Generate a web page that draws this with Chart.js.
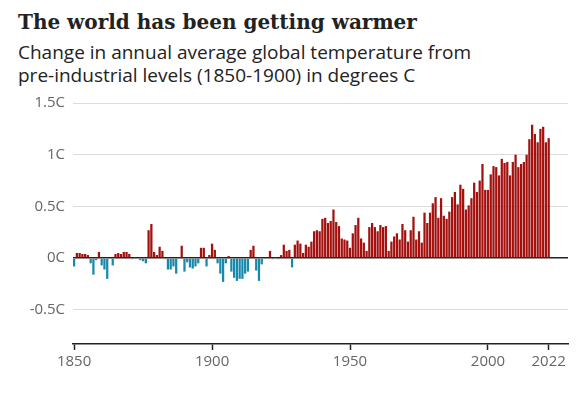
<!DOCTYPE html>
<html>
<head>
<meta charset="utf-8">
<script src="https://cdn.jsdelivr.net/npm/chart.js@4"></script>
<style>
    html, body {
        margin: 0;
        padding: 0;
        background: #fff;
    }
    #wrap {
        position: relative;
        width: 580px;
        height: 393px;
        overflow: hidden;
    }
    #title {
        position: absolute;
        left: 18px;
        top: 8px;
        font-family: 'DejaVu Serif', serif;
        font-weight: bold;
        font-size: 20px;
        line-height: 28px;
        color: #222;
        white-space: nowrap;
    }
    #subtitle {
        position: absolute;
        left: 18px;
        top: 41px;
        font-family: 'Open Sans', sans-serif;
        font-size: 19px;
        line-height: 23px;
        color: #222;
        white-space: nowrap;
    }
    #chart {
        position: absolute;
        left: 0;
        top: 0;
    }
</style>
</head>
<body>
<div id="wrap">
    <div id="title">The world has been getting warmer</div>
    <div id="subtitle">Change in annual average global temperature from<br>pre-industrial levels (1850-1900) in degrees C</div>
    <canvas id="chart" width="580" height="393"></canvas>
</div>
<script>
// Annual temperature change vs 1850-1900 average (degrees C)
const firstYear = 1850;
const temps1850s = [-0.08, 0.05, 0.05, 0.04, 0.04, 0.03, -0.05, -0.16, -0.02, 0.06];
const temps1860s = [-0.07, -0.11, -0.20, 0.00, -0.07, 0.04, 0.05, 0.04, 0.06, 0.06];
const temps1870s = [0.04, -0.01, 0.01, 0.00, -0.02, -0.03, -0.05, 0.27, 0.33, 0.06];
const temps1880s = [0.03, 0.11, 0.07, -0.01, -0.11, -0.11, -0.08, -0.15, 0.01, 0.12];
const temps1890s = [-0.13, -0.04, -0.09, -0.10, -0.08, -0.05, 0.10, 0.10, -0.08, 0.03];
const temps1900s = [0.14, 0.08, -0.05, -0.15, -0.23, -0.05, 0.02, -0.13, -0.19, -0.22];
const temps1910s = [-0.20, -0.20, -0.15, -0.13, 0.08, 0.12, -0.12, -0.22, -0.06, 0.00];
const temps1920s = [0.00, 0.07, -0.01, 0.01, -0.01, 0.03, 0.13, 0.07, 0.08, -0.09];
const temps1930s = [0.13, 0.17, 0.14, 0.05, 0.13, 0.11, 0.16, 0.26, 0.27, 0.26];
const temps1940s = [0.38, 0.39, 0.34, 0.36, 0.47, 0.35, 0.31, 0.19, 0.18, 0.17];
const temps1950s = [0.10, 0.24, 0.32, 0.39, 0.19, 0.15, 0.07, 0.30, 0.34, 0.30];
const temps1960s = [0.26, 0.32, 0.30, 0.31, 0.07, 0.16, 0.21, 0.24, 0.18, 0.33];
const temps1970s = [0.27, 0.16, 0.27, 0.40, 0.18, 0.26, 0.15, 0.44, 0.34, 0.44];
const temps1980s = [0.53, 0.59, 0.39, 0.58, 0.41, 0.38, 0.45, 0.59, 0.64, 0.52];
const temps1990s = [0.71, 0.67, 0.47, 0.51, 0.58, 0.73, 0.64, 0.75, 0.91, 0.66];
const temps2000s = [0.66, 0.81, 0.89, 0.88, 0.80, 0.96, 0.92, 0.93, 0.80, 0.93];
const temps2010s = [1.00, 0.88, 0.91, 0.93, 1.00, 1.15, 1.29, 1.20, 1.12, 1.25];
const temps2020s = [1.27, 1.12, 1.16];

const xTickYears = [1850, 1900, 1950, 2000, 2022];
const yTickValues = [-0.5, 0, 0.5, 1, 1.5];

const warmColor = '#a3110f';
const coolColor = '#1889aa';

const temps = [].concat(
    temps1850s, temps1860s, temps1870s, temps1880s, temps1890s,
    temps1900s, temps1910s, temps1920s, temps1930s, temps1940s,
    temps1950s, temps1960s, temps1970s, temps1980s, temps1990s,
    temps2000s, temps2010s, temps2020s
);
const points = temps.map((t, i) => ({ x: firstYear + i, y: t }));

const tickFont = { family: "'Open Sans', sans-serif", size: 15 };

new Chart(document.getElementById('chart'), {
    type: 'bar',
    data: {
        datasets: [{
            data: points,
            backgroundColor: points.map(p => p.y < 0 ? coolColor : warmColor),
            borderWidth: 0,
            barPercentage: 0.82,
            categoryPercentage: 1
        }]
    },
    options: {
        responsive: false,
        animation: false,
        layout: {
            padding: { top: 103, left: 0, right: 12, bottom: 19 }
        },
        plugins: {
            legend: { display: false },
            tooltip: { enabled: false }
        },
        scales: {
            x: {
                type: 'linear',
                offset: false,
                min: 1849.6,
                max: 2029,
                afterBuildTicks: axis => {
                    axis.ticks = xTickYears.map(v => ({ value: v }));
                },
                grid: {
                    offset: false,
                    drawOnChartArea: false,
                    drawTicks: true,
                    tickLength: 6,
                    tickWidth: 1.5,
                    tickColor: '#222'
                },
                border: { display: true, color: '#222', width: 1.5 },
                ticks: {
                    font: tickFont,
                    color: '#666',
                    padding: 3,
                    maxRotation: 0,
                    autoSkip: false,
                    callback: value => String(value)
                }
            },
            y: {
                min: -0.83,
                max: 1.5,
                afterBuildTicks: axis => {
                    axis.ticks = yTickValues.map(v => ({ value: v }));
                },
                afterFit: axis => {
                    axis.width = 73;
                },
                grid: {
                    drawTicks: false,
                    color: ctx => ctx.tick && ctx.tick.value === 0 ? '#222' : '#dcdcdc',
                    lineWidth: ctx => ctx.tick && ctx.tick.value === 0 ? 1.5 : 1
                },
                border: { display: false },
                ticks: {
                    font: tickFont,
                    color: '#666',
                    padding: 8,
                    callback: value => value + 'C'
                }
            }
        }
    }
});
</script>
</body>
</html>
